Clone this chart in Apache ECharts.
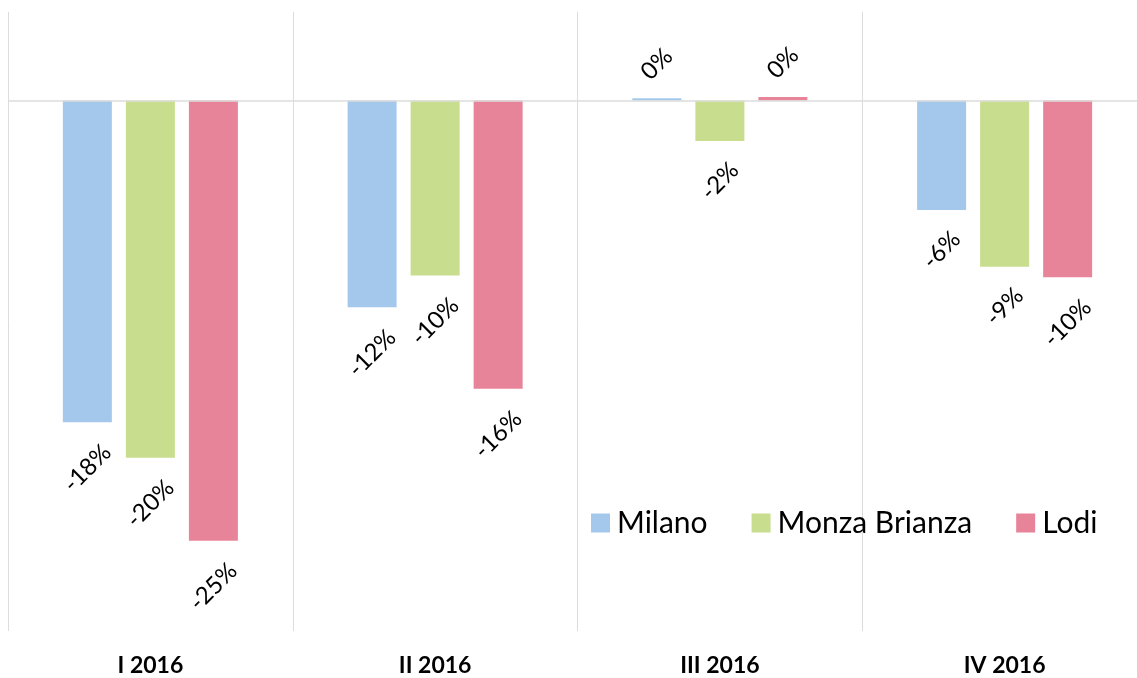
<!DOCTYPE html>
<html>
<head>
<meta charset="utf-8">
<script src="https://cdn.jsdelivr.net/npm/echarts@6/dist/echarts.min.js"></script>
<style>
html,body{margin:0;padding:0;background:#fff;}
#chart{width:1137px;height:678px;}
</style>
</head>
<body>
<div id="chart"></div>
<script>
const categories = ['I 2016', 'II 2016', 'III 2016', 'IV 2016'];
const seriesNames = ['Milano', 'Monza Brianza', 'Lodi'];
const milano = [-18.2, -11.7, 0.13, -6.2];
const monzaBrianza = [-20.2, -9.9, -2.3, -9.4];
const lodi = [-24.9, -16.3, 0.2, -10.0];
const colors = ['#A4C8EB', '#C8DD8D', '#E88499'];

const seriesValues = [milano, monzaBrianza, lodi];

function fmt(v) {
  let r = Math.round(v);
  if (r === 0) r = 0;
  return r + '%';
}

function buildData(values) {
  return values.map(v => {
    const txt = fmt(v);
    return {
      value: v,
      label: {
        position: v < 0 ? 'bottom' : 'top',
        distance: 22 + 6 * txt.length
      }
    };
  });
}

const chart = echarts.init(document.getElementById('chart'), null, {renderer: 'canvas'});

const series = seriesNames.map((name, i) => {
  const s = {
    name: name,
    type: 'bar',
    data: buildData(seriesValues[i]),
    barWidth: 49,
    barGap: '28.6%',
    itemStyle: { color: colors[i] },
    label: {
      show: true,
      rotate: 45,
      align: 'center',
      verticalAlign: 'middle',
      fontFamily: 'Lato',
      fontSize: 24,
      color: '#000',
      formatter: p => fmt(p.value)
    },
    emphasis: { disabled: true },
    animation: false
  };
  if (i === 0) {
    s.markLine = {
      silent: true,
      symbol: ['none', 'none'],
      label: { show: false },
      lineStyle: { color: '#dcdcdc', width: 1.5, type: 'solid' },
      data: [{ yAxis: 0 }],
      animation: false
    };
  }
  return s;
});

chart.setOption({
  animation: false,
  color: colors,
  grid: { left: 8, top: 12, width: 1139, height: 619, containLabel: false, outerBoundsMode: 'none' },
  legend: {
    data: seriesNames,
    left: 586,
    top: 503,
    icon: 'rect',
    itemWidth: 19,
    itemHeight: 19,
    itemGap: 44,
    textStyle: { fontFamily: 'Lato', fontSize: 30, color: '#000', padding: [0, 0, 0, 2] }
  },
  xAxis: {
    type: 'category',
    data: categories,
    position: 'bottom',
    axisLine: { show: false, onZero: false },
    axisTick: { show: false },
    splitLine: { show: true, lineStyle: { color: '#dcdcdc', width: 1 } },
    axisLabel: { fontFamily: 'Lato', fontWeight: 'bold', fontSize: 23, color: '#000', margin: 23 }
  },
  yAxis: {
    type: 'value',
    min: -30,
    max: 5,
    interval: 5,
    show: true,
    axisLine: { show: false },
    axisTick: { show: false },
    axisLabel: { show: false },
    splitLine: { show: false }
  },
  series: series
});
</script>
</body>
</html>
